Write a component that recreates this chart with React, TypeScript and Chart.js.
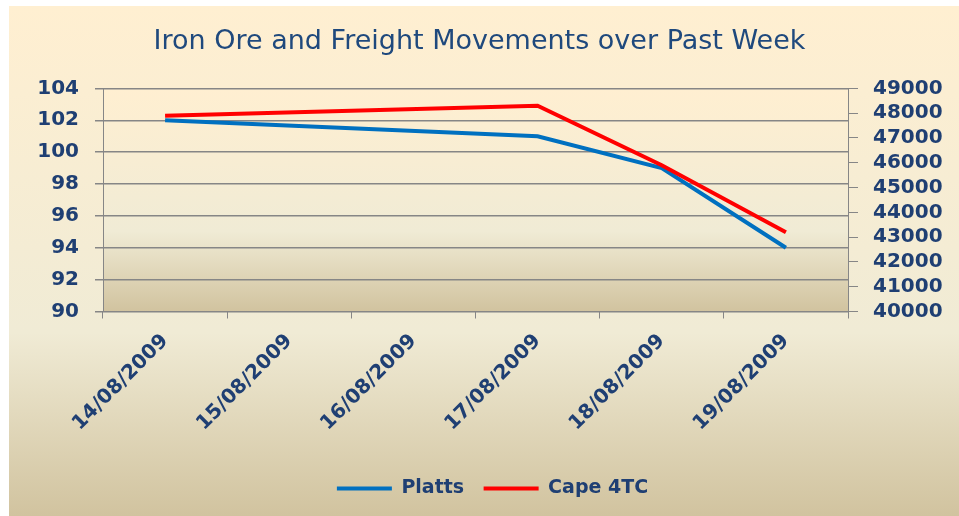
import React, { useEffect, useRef } from 'react';
import { Chart, registerables } from 'chart.js';

Chart.register(...registerables);

const categories = ['14/08/2009', '15/08/2009', '16/08/2009', '17/08/2009', '18/08/2009', '19/08/2009'];
const plattsValues = [102, null, null, 101, 99, 94];
const cape4tcValues = [47900, null, null, 48300, 45900, 43200];
const leftAxis = { min: 90, max: 104, step: 2 };
const rightAxis = { min: 40000, max: 49000, step: 1000 };
const titleText = 'Iron Ore and Freight Movements over Past Week';

const TEXT = '#1F3F73';
const TITLE_COLOR = '#1F497D';
const GRID = '#868686';
const FONT = 'DejaVu Sans';

function parchment(ctx: CanvasRenderingContext2D, y0: number, y1: number) {
  const g = ctx.createLinearGradient(0, y0, 0, y1);
  g.addColorStop(0, '#FFEFD1');
  g.addColorStop(0.64, '#F0EBD5');
  g.addColorStop(1, '#D1C39F');
  return g;
}

const bgPlugin = {
  id: 'parchmentBg',
  beforeDraw(chart: any) {
    const { ctx, width, height, chartArea } = chart;
    ctx.save();
    ctx.fillStyle = '#FFFFFF';
    ctx.fillRect(0, 0, width, height);
    ctx.fillStyle = parchment(ctx, 6, height);
    ctx.fillRect(9, 6, width - 9, height - 6);
    ctx.fillStyle = parchment(ctx, chartArea.top, chartArea.bottom);
    ctx.fillRect(chartArea.left, chartArea.top, chartArea.right - chartArea.left, chartArea.bottom - chartArea.top);
    ctx.restore();
  },
  afterLayout(chart: any) {
    if (chart.legend) {
      chart.legend.left += 13;
      chart.legend.right += 13;
    }
  },
};

export default function App() {
  const ref = useRef<HTMLCanvasElement>(null);
  useEffect(() => {
    if (!ref.current) return;
    const tickFont = { family: FONT, size: 20, weight: 'bold' as const };
    const chart = new Chart(ref.current, {
      type: 'line',
      data: {
        labels: categories,
        datasets: [
          {
            label: 'Platts',
            data: plattsValues,
            borderColor: '#0070C0',
            backgroundColor: '#0070C0',
            borderWidth: 4,
            pointRadius: 0,
            spanGaps: true,
            tension: 0,
            yAxisID: 'y',
            order: 1,
          },
          {
            label: 'Cape 4TC',
            data: cape4tcValues,
            borderColor: '#FF0000',
            backgroundColor: '#FF0000',
            borderWidth: 4,
            pointRadius: 0,
            spanGaps: true,
            tension: 0,
            yAxisID: 'y1',
            order: 0,
          },
        ],
      },
      options: {
        responsive: false,
        animation: false,
        layout: { padding: { left: 0, right: 0, top: 0, bottom: 8 } },
        plugins: {
          tooltip: { enabled: false },
          title: {
            display: true,
            text: titleText,
            color: TITLE_COLOR,
            font: { family: FONT, size: 27, weight: 'normal' },
            padding: { top: 26, bottom: 30 },
          },
          legend: {
            position: 'bottom',
            labels: {
              usePointStyle: true,
              pointStyle: 'line',
              pointStyleWidth: 55,
              boxHeight: 19,
              padding: 19.5,
              color: TEXT,
              font: { family: FONT, size: 19, weight: 'bold' },
              sort: (a: any, b: any) => a.datasetIndex - b.datasetIndex,
            },
          },
        },
        scales: {
          x: {
            type: 'category',
            offset: true,
            grid: { drawOnChartArea: false, drawTicks: true, tickLength: 7, color: GRID, offset: true },
            border: { color: GRID, width: 1 },
            ticks: { font: tickFont, color: TEXT, maxRotation: 45, minRotation: 45, padding: 11, autoSkip: false },
            afterFit: (s: any) => { s.height = 148; },
          },
          y: {
            position: 'left',
            min: leftAxis.min,
            max: leftAxis.max,
            ticks: { stepSize: leftAxis.step, font: tickFont, color: TEXT, padding: 16, autoSkip: false },
            grid: { color: GRID, lineWidth: 1.5, tickLength: 8 },
            border: { color: GRID, width: 1 },
            afterFit: (s: any) => { s.width = 103; },
          },
          y1: {
            position: 'right',
            min: rightAxis.min,
            max: rightAxis.max,
            ticks: {
              stepSize: rightAxis.step,
              font: tickFont,
              color: TEXT,
              padding: 15,
              autoSkip: false,
              callback: (v: any) => String(v),
            },
            grid: { drawOnChartArea: false, tickLength: 10, color: GRID },
            border: { color: GRID, width: 1 },
            afterFit: (s: any) => { s.width = 111; },
          },
        },
      },
      plugins: [bgPlugin],
    });
    return () => chart.destroy();
  }, []);
  return (
    <div style={{ position: 'absolute', left: 0, top: 0, width: 959, height: 516 }}>
      <canvas ref={ref} width={959} height={516} />
    </div>
  );
}
